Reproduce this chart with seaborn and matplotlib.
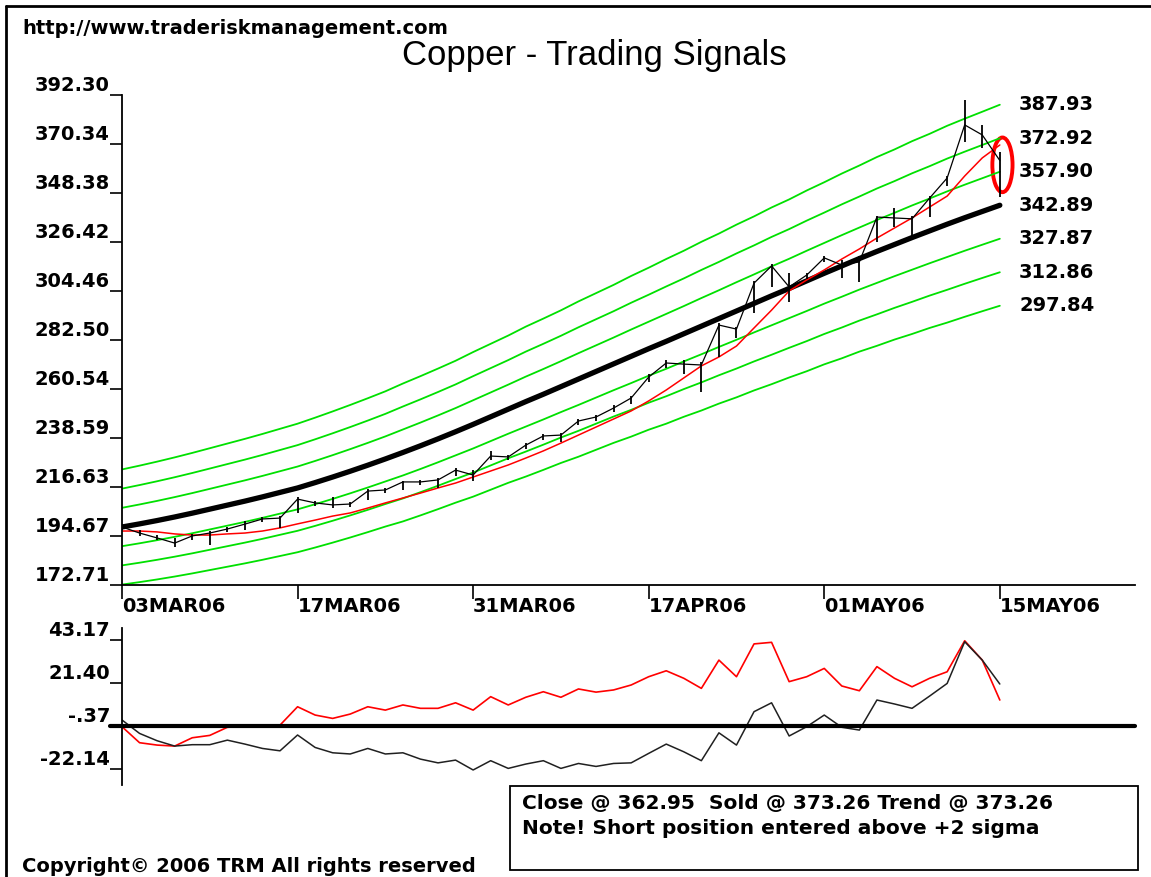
import numpy as np
import pandas as pd
import matplotlib
matplotlib.use("Agg")
import matplotlib.pyplot as plt
import seaborn as sns
from matplotlib.patches import Ellipse, Rectangle
from matplotlib.lines import Line2D

# daily copper bars, 03MAR06 .. 15MAY06 (51 trading days)
close = [198.7, 196.0, 193.8, 191.5, 194.7, 196.0, 197.8, 200.0, 202.3, 202.7,
         211.2, 209.5, 208.6, 209.0, 214.8, 215.3, 218.9, 218.9, 219.8, 224.2,
         222.0, 230.5, 230.1, 235.4, 239.5, 239.9, 246.2, 248.0, 252.0, 256.5,
         265.9, 272.2, 271.7, 271.3, 289.2, 287.4, 308.0, 315.7, 306.3, 311.6,
         319.3, 316.1, 317.5, 337.6, 337.2, 336.8, 346.1, 355.1, 378.9, 374.4,
         362.95]
high = [200.1, 197.4, 195.1, 193.8, 195.6, 196.9, 198.7, 201.4, 203.2, 203.6,
        212.2, 210.4, 212.2, 209.9, 215.7, 216.2, 219.3, 219.8, 220.7, 225.1,
        224.3, 232.8, 231.0, 236.3, 240.4, 240.8, 247.1, 248.9, 253.4, 257.4,
        267.3, 273.5, 273.5, 272.6, 290.1, 288.3, 309.0, 316.6, 312.5, 312.5,
        320.2, 318.3, 320.2, 338.1, 341.7, 338.1, 347.0, 356.0, 390.1, 378.9,
        366.8]
low = [197.4, 194.7, 192.9, 189.7, 192.9, 190.6, 196.5, 197.4, 200.9, 198.3,
       205.0, 208.1, 207.2, 207.7, 210.8, 213.9, 215.3, 217.5, 216.2, 221.6,
       219.3, 228.7, 228.7, 233.7, 237.7, 236.8, 244.4, 246.2, 250.2, 253.8,
       263.7, 270.0, 267.3, 259.2, 274.9, 283.5, 294.6, 306.3, 299.5, 309.8,
       317.5, 310.3, 308.5, 326.4, 333.1, 328.7, 337.6, 351.5, 371.2, 368.6,
       346.6]
# red signal line
signal = [196.9, 196.9, 196.5, 195.6, 195.1, 195.1, 195.6, 196.0, 196.9, 198.3,
          200.1, 201.8, 203.6, 205.0, 207.2, 209.5, 211.7, 213.9, 216.2, 218.4,
          221.1, 223.8, 226.5, 229.6, 232.8, 236.3, 239.9, 243.5, 247.1, 250.7,
          255.2, 260.1, 265.5, 270.9, 274.9, 279.8, 287.9, 295.9, 304.5, 309.4,
          313.9, 318.8, 323.3, 328.2, 332.7, 337.2, 342.1, 347.0, 356.0, 364.1,
          369.9]
# thick black trend and band width (1 sigma)
trend = [198.7, 200.1, 201.6, 203.2, 204.9, 206.7, 208.5, 210.3, 212.2, 214.2,
         216.2, 218.6, 221.1, 223.7, 226.4, 229.2, 232.1, 235.1, 238.2, 241.4,
         244.7, 248.1, 251.5, 254.9, 258.2, 261.6, 265.0, 268.4, 271.8, 275.2,
         278.6, 281.9, 285.3, 288.7, 292.1, 295.5, 298.9, 302.3, 305.6, 309.0,
         312.4, 315.7, 319.0, 322.2, 325.3, 328.4, 331.4, 334.4, 337.3, 340.1,
         342.89]
sigma = [8.6, 8.7, 8.8, 8.9, 9.0, 9.1, 9.2, 9.3, 9.4, 9.5,
         9.6, 9.7, 9.8, 9.9, 10.0, 10.1, 10.3, 10.4, 10.5, 10.6,
         10.8, 10.9, 11.0, 11.2, 11.3, 11.4, 11.6, 11.7, 11.8, 12.0,
         12.1, 12.3, 12.4, 12.6, 12.7, 12.9, 13.0, 13.2, 13.3, 13.5,
         13.6, 13.8, 13.9, 14.1, 14.2, 14.4, 14.5, 14.7, 14.8, 14.9,
         15.015]
band_end = [387.93, 372.92, 357.90, 342.89, 327.87, 312.86, 297.84]

# lower panel oscillators
osc_red = [-0.7, -8.8, -10.0, -10.5, -6.3, -5.1, -1.0, -0.4, -0.4, 0.1,
           9.4, 5.2, 3.5, 5.7, 9.4, 7.7, 10.3, 8.6, 8.6, 11.4,
           7.7, 14.5, 10.3, 14.2, 17.0, 14.2, 18.4, 16.8, 17.9, 20.4,
           24.6, 27.6, 23.8, 18.7, 33.0, 24.6, 41.2, 42.0, 22.1, 24.6,
           28.8, 19.9, 17.5, 29.7, 23.8, 19.5, 23.8, 27.1, 42.8, 33.0,
           12.8]
osc_black = [2.7, -4.1, -7.8, -10.5, -9.8, -9.8, -7.5, -9.5, -11.7, -12.9,
             -4.9, -11.2, -13.9, -14.5, -11.7, -14.5, -13.9, -17.1, -19.0, -17.6,
             -22.6, -17.9, -21.8, -19.6, -17.9, -21.8, -19.3, -20.8, -19.3, -19.0,
             -14.2, -9.5, -13.4, -17.9, -3.8, -10.0, 6.9, 11.4, -5.4, -0.7,
             5.2, -1.0, -2.4, 12.8, 10.8, 8.6, 14.8, 21.2, 42.3, 33.0,
             20.9]

date_ticks = [0, 10, 20, 30, 40, 50]
date_labels = ["03MAR06", "17MAR06", "31MAR06", "17APR06", "01MAY06", "15MAY06"]
price_ticks = [172.71, 194.67, 216.63, 238.59, 260.54, 282.50, 304.46, 326.42, 348.38, 370.34, 392.30]
osc_ticks = [43.17, 21.40, -0.37, -22.14]
osc_labels = ["43.17", "21.40", "-.37", "-22.14"]

sns.set_style("ticks")
plt.rcParams['font.family'] = ['DejaVu Sans']
plt.rcParams['text.color'] = 'black'
plt.rcParams['xtick.color'] = 'black'
plt.rcParams['ytick.color'] = 'black'
plt.rcParams['axes.labelcolor'] = 'black'

W, H = 1151, 877
fig = plt.figure(figsize=(W / 100, H / 100), dpi=100)


def px_box(l, t, r, b):
    return [l / W, 1 - b / H, (r - l) / W, (b - t) / H]


ax = fig.add_axes(px_box(122, 95, 1135, 585))
ax2 = fig.add_axes(px_box(122, 628, 1135, 785))

df = pd.DataFrame({"bar": np.arange(len(close)), "close": close, "high": high,
                   "low": low, "signal": signal, "trend": trend, "sigma": sigma,
                   "osc_red": osc_red, "osc_black": osc_black})

# sigma bands
for k in [3, 2, 1, -1, -2, -3]:
    sns.lineplot(x=df["bar"], y=df["trend"] + k * df["sigma"], ax=ax,
                 color="#00e000", linewidth=1.3)
sns.lineplot(data=df, x="bar", y="trend", ax=ax, color="black", linewidth=3.8)
sns.lineplot(data=df, x="bar", y="signal", ax=ax, color="#ff0000", linewidth=1.1)
ax.vlines(df["bar"], df["low"], df["high"], color="black", linewidth=1.3)
sns.lineplot(data=df, x="bar", y="close", ax=ax, color="black", linewidth=0.9)

for v in band_end:
    ax.text(51.1, v, f"{v:.2f}", ha="left", va="center", fontsize=14,
            fontweight="bold", color="black", clip_on=False)

ax.add_patch(Ellipse((50.15, 361.0), 1.15, 24.5, fill=False, edgecolor="red",
                     linewidth=2.8, clip_on=False))

ax.set_xlim(0, 57.7)
ax.set_ylim(172.71, 392.30)
ax.set_xticks(date_ticks)
ax.set_xticklabels(date_labels, fontsize=14, fontweight="bold")
for lab in ax.get_xticklabels():
    lab.set_ha("left")
ax.set_yticks(price_ticks)
ax.set_yticklabels([f"{v:.2f}" for v in price_ticks], fontsize=14, fontweight="bold")
for lab in ax.get_yticklabels():
    lab.set_va("bottom")
ax.tick_params(axis="x", length=10, width=1.2, pad=-1, colors="black")
ax.tick_params(axis="y", length=8.6, width=1.2, pad=0, colors="black")
ax.set_xlabel("")
ax.set_ylabel("")
sns.despine(ax=ax)
for s in ["left", "bottom"]:
    ax.spines[s].set_linewidth(1.3)
    ax.spines[s].set_color("black")

# oscillator panel
sns.lineplot(data=df, x="bar", y="osc_red", ax=ax2, color="#ff0000", linewidth=1.2)
sns.lineplot(data=df, x="bar", y="osc_black", ax=ax2, color="#202020", linewidth=1.1)
ax2.axhline(-0.37, xmin=-0.012, xmax=1.0, color="black", linewidth=3, clip_on=False)
ax2.set_xlim(0, 57.7)
ax2.set_ylim(-30.2, 49.25)
ax2.set_xticks([])
ax2.set_yticks(osc_ticks)
ax2.set_yticklabels(osc_labels, fontsize=14, fontweight="bold")
for lab in ax2.get_yticklabels():
    lab.set_va("bottom")
ax2.tick_params(axis="y", length=8.6, width=1.2, pad=0, colors="black")
ax2.set_xlabel("")
ax2.set_ylabel("")
sns.despine(ax=ax2, bottom=True)
ax2.spines["left"].set_linewidth(1.3)
ax2.spines["left"].set_color("black")

# frame, header and footer
fig.add_artist(Line2D([6 / W, 6 / W], [0, 1 - 6 / H], color="black", linewidth=2,
                      transform=fig.transFigure))
fig.add_artist(Line2D([6 / W, 1], [1 - 6 / H, 1 - 6 / H], color="black", linewidth=2,
                      transform=fig.transFigure))
fig.text(22 / W, 1 - 28 / H, "http://www.traderiskmanagement.com", ha="left",
         va="center", fontsize=14, fontweight="bold")
fig.text(594 / W, 1 - 55 / H, "Copper - Trading Signals", ha="center", va="center",
         fontsize=25, family="Liberation Sans")
fig.text(22 / W, 1 - 866 / H, "Copyright\u00a9 2006 TRM All rights reserved", ha="left",
         va="center", fontsize=14, fontweight="bold")

fig.add_artist(Rectangle((510 / W, 1 - 870 / H), (1138 - 510) / W, (870 - 786) / H,
                         transform=fig.transFigure, fill=False, edgecolor="black",
                         linewidth=1.3))
fig.text(522 / W, 1 - 803 / H, "Close @ 362.95  Sold @ 373.26 Trend @ 373.26",
         ha="left", va="center", fontsize=14.5, fontweight="bold")
fig.text(522 / W, 1 - 828 / H, "Note! Short position entered above +2 sigma",
         ha="left", va="center", fontsize=14.5, fontweight="bold")

fig.savefig("out.png", dpi=100, facecolor="white")
